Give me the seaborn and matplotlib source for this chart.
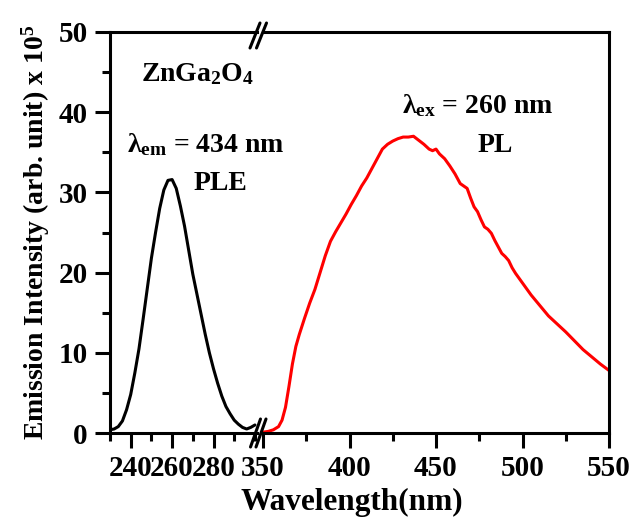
import matplotlib
matplotlib.use("Agg")
import matplotlib.pyplot as plt
import seaborn as sns
import pandas as pd
from matplotlib.lines import Line2D
from matplotlib.ticker import MultipleLocator

# ---------------- data ----------------
ple_wavelength = [230, 232, 234, 236, 238, 240, 242, 244, 246, 248, 250, 252, 254, 256,
                  258, 260, 262, 264, 266, 268, 270, 272, 274, 276, 278, 280, 282, 284,
                  286, 288, 290, 292, 294, 296, 298, 300]
ple_intensity = [0.4, 0.5, 0.8, 1.5, 2.9, 4.8, 7.5, 10.5, 14.2, 18.0, 21.8, 25.0, 28.0, 30.3,
                 31.5, 31.6, 30.5, 28.3, 25.8, 22.8, 19.8, 17.3, 14.8, 12.3, 10.0, 8.0, 6.2, 4.6,
                 3.3, 2.4, 1.6, 1.1, 0.7, 0.5, 0.7, 1.0]

pl_wavelength = [350, 353, 356, 359, 361, 363, 365, 367, 369, 371, 374, 377, 380, 383, 386,
                 389, 392, 395, 398, 401, 404, 407, 410, 413, 416, 419, 422, 425, 428, 431,
                 434, 437, 440, 443, 446, 448, 450, 452, 455, 458, 461, 464, 466, 468, 470,
                 472, 474, 476, 478, 480, 482, 484, 486, 488, 490, 492, 494, 496, 498, 500,
                 505, 510, 515, 520, 525, 530, 535, 540, 545, 550]
pl_intensity = [0.1, 0.2, 0.4, 0.8, 1.6, 3.2, 5.8, 8.6, 10.8, 12.3, 14.3, 16.2, 17.9, 20.0, 22.1,
                23.9, 25.1, 26.2, 27.3, 28.5, 29.6, 30.8, 31.8, 33.0, 34.2, 35.4, 36.0, 36.4, 36.7, 36.9,
                36.9, 37.0, 36.5, 36.0, 35.4, 35.2, 35.4, 34.8, 34.2, 33.3, 32.3, 31.1, 30.8, 30.5, 29.3,
                28.2, 27.6, 26.6, 25.7, 25.4, 24.9, 24.0, 23.2, 22.4, 22.0, 21.5, 20.6, 19.9, 19.3, 18.7,
                17.2, 15.9, 14.6, 13.6, 12.6, 11.5, 10.4, 9.5, 8.6, 7.8]

left_ticks = [240, 260, 280]
right_ticks = [350, 400, 450, 500, 550]
y_ticks = [0, 10, 20, 30, 40, 50]

# ---------------- style ----------------
sns.set_style("ticks")
plt.rcParams["font.family"] = ["Liberation Serif", "DejaVu Serif"]
plt.rcParams["font.weight"] = "bold"
plt.rcParams["text.color"] = "black"
plt.rcParams["axes.edgecolor"] = "black"
plt.rcParams["axes.labelcolor"] = "black"
plt.rcParams["xtick.color"] = "black"
plt.rcParams["ytick.color"] = "black"
plt.rcParams["mathtext.fontset"] = "custom"
plt.rcParams["mathtext.rm"] = "Liberation Serif:bold"
plt.rcParams["mathtext.it"] = "Liberation Serif:bold"
plt.rcParams["mathtext.bf"] = "Liberation Serif:bold"
plt.rcParams["mathtext.default"] = "rm"

W, H = 632, 519
fig = plt.figure(figsize=(W / 100, H / 100), dpi=100)

def fx(px):
    return px / W

def fy(py):
    return 1 - py / H

y_top, y_bot = 32, 433
ax1 = fig.add_axes([fx(110), fy(y_bot), fx(257) - fx(110), fy(y_top) - fy(y_bot)])
ax2 = fig.add_axes([fx(263), fy(y_bot), fx(609) - fx(263), fy(y_top) - fy(y_bot)])

ple = pd.DataFrame({"wl": ple_wavelength, "I": ple_intensity})
pl = pd.DataFrame({"wl": pl_wavelength, "I": pl_intensity})
sns.lineplot(data=ple, x="wl", y="I", ax=ax1, color="black", linewidth=2.2)
sns.lineplot(data=pl, x="wl", y="I", ax=ax2, color="#ff0000", linewidth=2.2)

ax1.set_xlim(230, 301)
ax2.set_xlim(350, 550)
for ax in (ax1, ax2):
    ax.set_ylim(0, 50)
    ax.set_xlabel("")
    ax.set_ylabel("")
    for s in ax.spines.values():
        s.set_linewidth(2.2)
        s.set_color("black")
    ax.tick_params(axis="both", which="major", length=11, width=2.2, labelsize=21, pad=5,
                   direction="out", colors="black")
    ax.tick_params(axis="both", which="minor", length=6, width=2.2, direction="out",
                   colors="black")

ax1.spines["right"].set_visible(False)
ax2.spines["left"].set_visible(False)
ax1.set_xticks(left_ticks)
ax1.xaxis.set_minor_locator(MultipleLocator(10))
ax1.set_yticks(y_ticks)
ax1.yaxis.set_minor_locator(MultipleLocator(5))
ax2.set_xticks(right_ticks)
ax2.xaxis.set_minor_locator(MultipleLocator(25))
ax2.tick_params(axis="y", which="both", left=False, labelleft=False)
for lab in ax1.get_xticklabels() + ax1.get_yticklabels() + ax2.get_xticklabels():
    lab.set_fontweight("bold")

ax1.set_ylabel(r"Emission Intensity (arb. unit) x 10$^{5}$", fontsize=20, fontweight="bold",
               labelpad=5)
fig.text(fx(352), fy(502), "Wavelength(nm)", fontsize=22.5, fontweight="bold",
         ha="center", va="center")

# break marks
for (x0, y0, x1, y1) in [(250.5, 447, 260.5, 419), (256, 447, 266, 419),
                         (250, 48, 260, 23), (256.5, 48, 266.5, 23)]:
    fig.add_artist(Line2D([fx(x0), fx(x1)], [fy(y0), fy(y1)], color="black",
                          linewidth=2.2, transform=fig.transFigure))

# annotations
fs = 20
fig.text(fx(141), fy(74), r"ZnGa$_2$O$_4$", fontsize=fs, fontweight="bold", va="center")
fig.text(fx(127), fy(145), r"$\lambda_{em}$ = 434 nm", fontsize=fs, fontweight="bold",
         va="center")
fig.text(fx(194), fy(184), "PLE", fontsize=fs, fontweight="bold", va="center")
fig.text(fx(402), fy(106), r"$\lambda_{ex}$ = 260 nm", fontsize=fs, fontweight="bold",
         va="center")
fig.text(fx(478), fy(145), "PL", fontsize=fs, fontweight="bold", va="center")

fig.savefig("out.png", dpi=100)
